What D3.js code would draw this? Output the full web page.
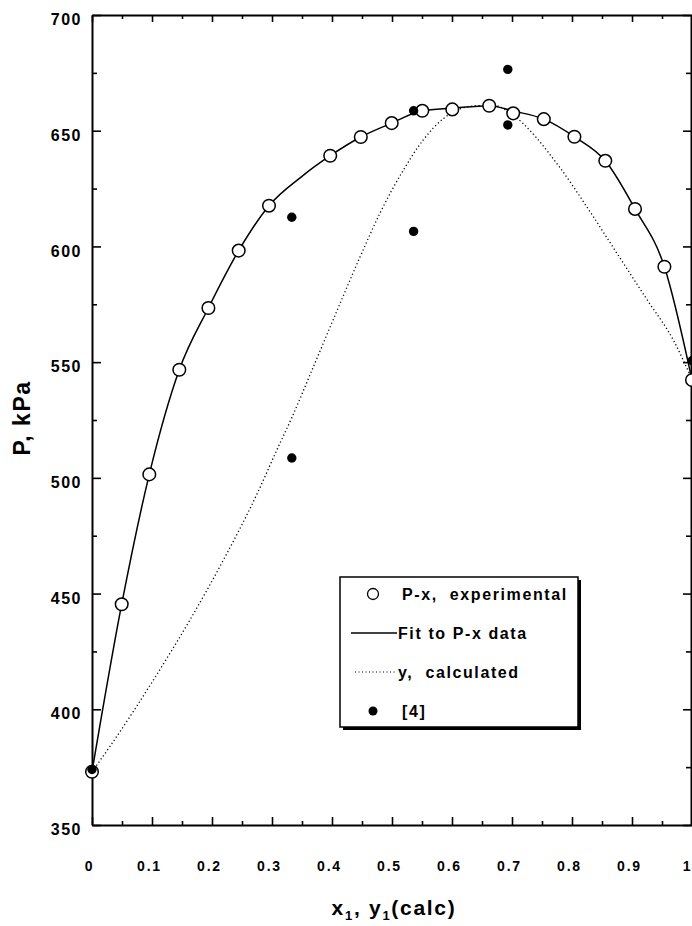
<!DOCTYPE html>
<html>
<head>
<meta charset="utf-8">
<script src="https://cdn.jsdelivr.net/npm/d3@7"></script>
<style>
  body { margin: 0; background: #fff; }
  svg, svg text { font-family: "Liberation Sans", Arial, sans-serif; font-weight: bold; }
  .axis path, .axis line { stroke: #000; }
  .axis path { stroke-width: 2; }
  .axis line { stroke-width: 1.6; }
</style>
</head>
<body>
<div id="chart"></div>
<script>
// P-x experimental (open circles)
var expX = [0, 0.0495, 0.0955, 0.1455, 0.194, 0.2445, 0.295, 0.397, 0.448, 0.4995, 0.5505, 0.6005, 0.662, 0.702, 0.753, 0.804, 0.8555, 0.905, 0.954, 1.0];
var expP = [373, 445.4, 501.5, 546.7, 573.4, 598.2, 617.6, 639.2, 647.3, 653.3, 658.6, 659.2, 660.8, 657.5, 655, 647.4, 637, 616.2, 591.2, 542.3];

// Fit to P-x data (solid line)
var fitX = [0, 0.0495, 0.0955, 0.1455, 0.194, 0.2445, 0.295, 0.35, 0.397, 0.448, 0.4995, 0.5505, 0.6005, 0.662, 0.702, 0.753, 0.804, 0.8555, 0.905, 0.954, 1.0];
var fitP = [373, 445.4, 501.5, 546.7, 573.4, 598.2, 617.6, 630.3, 639.2, 647.3, 653.3, 658.6, 659.7, 660.8, 658.5, 655, 647.4, 637, 616.2, 591.2, 542.3];

// y, calculated (dotted line)
var calcX = [0, 0.03, 0.108, 0.163, 0.219, 0.275, 0.308, 0.333, 0.369, 0.408, 0.447, 0.48, 0.519, 0.552, 0.586, 0.63, 0.67, 0.70, 0.78, 0.825, 0.875, 0.925, 0.97, 1.0];
var calcP = [373, 384, 415, 438.5, 464.5, 493, 512, 526, 548, 572, 595.6, 614.4, 633, 646, 655.3, 660.5, 661, 657, 634, 617, 597, 577, 559, 542.5];

// [4] (filled circles)
var refX = [0, 0.333, 0.333, 0.536, 0.536, 0.693, 0.693, 1.0];
var refP = [374, 612.6, 508.6, 606.5, 658.6, 676.5, 652.5, 550.6];

var xTicks = [0, 0.1, 0.2, 0.3, 0.4, 0.5, 0.6, 0.7, 0.8, 0.9, 1];
var xTickLabels = ["0", "0.1", "0.2", "0.3", "0.4", "0.5", "0.6", "0.7", "0.8", "0.9", "1"];
var xMinor = [0.05, 0.15, 0.25, 0.35, 0.45, 0.55, 0.65, 0.75, 0.85, 0.95];
var yTicks = [350, 400, 450, 500, 550, 600, 650, 700];
var yMinor = [375, 425, 475, 525, 575, 625, 675];

var legendLabels = ["P-x,  experimental", "Fit to P-x data", "y,  calculated", "[4]"];

var margin = {top: 15, right: 0, bottom: 101, left: 92};
var width = 692 - margin.left - margin.right;
var height = 926 - margin.top - margin.bottom;

var svg = d3.select('#chart').append('svg')
    .attr('width', 692)
    .attr('height', 926);

var g = svg.append('g')
    .attr('transform', `translate(${margin.left},${margin.top})`);

// Scales
var xScale = d3.scaleLinear().domain([0, 1]).range([0, width]);
var yScale = d3.scaleLinear().domain([350, 700]).range([height, 0]);

// Axes (ticks point inward)
var xAxis = d3.axisBottom(xScale).tickValues(xTicks).tickSize(-8).tickSizeOuter(0)
    .tickPadding(36).tickFormat((d, i) => xTickLabels[i]);
var gx = g.append('g').attr('class', 'x axis').attr('transform', `translate(0,${height})`).call(xAxis);
gx.selectAll('text')
    .attr('x', (d) => d === 1 ? -5 : -3)
    .style('font-size', '14px')
    .style('letter-spacing', '1.8px');

g.append('g').attr('class', 'axis').attr('transform', `translate(0,${height})`)
    .call(d3.axisBottom(xScale).tickValues(xMinor).tickSize(-4).tickSizeOuter(0).tickFormat(''))
    .select('.domain').remove();

var yAxis = d3.axisLeft(yScale).tickValues(yTicks).tickSize(-9).tickSizeOuter(0).tickPadding(10);
var gy = g.append('g').attr('class', 'y axis').call(yAxis);
gy.selectAll('text')
    .attr('dy', '0.6em')
    .style('font-size', '16px')
    .style('letter-spacing', '1.5px');

g.append('g').attr('class', 'axis')
    .call(d3.axisLeft(yScale).tickValues(yMinor).tickSize(-5).tickSizeOuter(0).tickFormat(''))
    .select('.domain').remove();

// top and right frame with ticks
g.append('g').attr('class', 'axis')
    .call(d3.axisTop(xScale).tickValues(xTicks).tickSize(-7).tickSizeOuter(0).tickFormat(''));
g.append('g').attr('class', 'axis')
    .call(d3.axisTop(xScale).tickValues(xMinor).tickSize(-4).tickSizeOuter(0).tickFormat(''))
    .select('.domain').remove();

g.append('g').attr('class', 'axis').attr('transform', `translate(${width - 1},0)`)
    .call(d3.axisRight(yScale).tickValues(yTicks).tickSize(-8).tickSizeOuter(0).tickFormat(''));
g.append('g').attr('class', 'axis').attr('transform', `translate(${width - 1},0)`)
    .call(d3.axisRight(yScale).tickValues(yMinor).tickSize(-5).tickSizeOuter(0).tickFormat(''))
    .select('.domain').remove();

// Lines
var fitData = fitX.map((x, i) => ({x: x, p: fitP[i]}));
var calcData = calcX.map((x, i) => ({x: x, p: calcP[i]}));
var expData = expX.map((x, i) => ({x: x, p: expP[i]}));
var refData = refX.map((x, i) => ({x: x, p: refP[i]}));

var line = d3.line()
    .x((d) => xScale(d.x))
    .y((d) => yScale(d.p))
    .curve(d3.curveMonotoneX);

g.append('path').datum(calcData)
    .attr('d', line)
    .attr('fill', 'none')
    .attr('stroke', '#000')
    .attr('stroke-width', 1.3)
    .attr('stroke-dasharray', '1.2,2.6');

g.append('path').datum(fitData)
    .attr('d', line)
    .attr('fill', 'none')
    .attr('stroke', '#000')
    .attr('stroke-width', 1.5);

// Points
g.selectAll('.exp').data(expData).enter().append('circle')
    .attr('class', 'exp')
    .attr('cx', (d) => xScale(d.x))
    .attr('cy', (d) => yScale(d.p))
    .attr('r', 6.3)
    .attr('fill', '#fff')
    .attr('stroke', '#000')
    .attr('stroke-width', 1.5);

g.selectAll('.ref').data(refData).enter().append('circle')
    .attr('class', 'ref')
    .attr('cx', (d) => xScale(d.x))
    .attr('cy', (d) => yScale(d.p))
    .attr('r', 4.7)
    .attr('fill', '#000');

// Axis titles
svg.append('text')
    .attr('transform', 'translate(30,418) rotate(-90)')
    .attr('text-anchor', 'middle')
    .style('font-size', '23px')
    .style('letter-spacing', '1.5px')
    .text('P, kPa');

var xt = svg.append('text')
    .attr('x', 394)
    .attr('y', 915)
    .attr('text-anchor', 'middle')
    .style('font-size', '21px')
    .style('letter-spacing', '1.7px');
xt.append('tspan').text('x');
xt.append('tspan').attr('dy', 5).style('font-size', '13px').text('1');
xt.append('tspan').attr('dy', -5).text(', y');
xt.append('tspan').attr('dy', 5).style('font-size', '13px').text('1');
xt.append('tspan').attr('dy', -5).text('(calc)');

// Legend
var lg = svg.append('g').attr('transform', 'translate(340,577)');
lg.append('rect').attr('x', 3).attr('y', 3).attr('width', 238).attr('height', 150).attr('fill', '#000');
lg.append('rect').attr('x', 0).attr('y', 0).attr('width', 238).attr('height', 150)
    .attr('fill', '#fff').attr('stroke', '#000').attr('stroke-width', 1.5);

var rowY = [17, 56, 95, 134];
lg.append('circle').attr('cx', 33).attr('cy', rowY[0]).attr('r', 5.5)
    .attr('fill', '#fff').attr('stroke', '#000').attr('stroke-width', 1.3);
lg.append('line').attr('x1', 11).attr('x2', 57).attr('y1', rowY[1]).attr('y2', rowY[1])
    .attr('stroke', '#000').attr('stroke-width', 1.3);
lg.append('line').attr('x1', 15).attr('x2', 57).attr('y1', rowY[2]).attr('y2', rowY[2])
    .attr('stroke', '#000').attr('stroke-width', 1.1).attr('stroke-dasharray', '1,2.5');
lg.append('circle').attr('cx', 33).attr('cy', rowY[3]).attr('r', 4.5).attr('fill', '#000');

lg.selectAll('.lgtext').data(legendLabels).enter().append('text')
    .attr('class', 'lgtext')
    .attr('x', (d, i) => i === 1 || i === 2 ? 58 : 62)
    .attr('y', (d, i) => rowY[i] + 6)
    .style('font-size', '16px')
    .style('letter-spacing', '1.6px')
    .style('white-space', 'pre')
    .text((d) => d);
</script>
</body>
</html>
